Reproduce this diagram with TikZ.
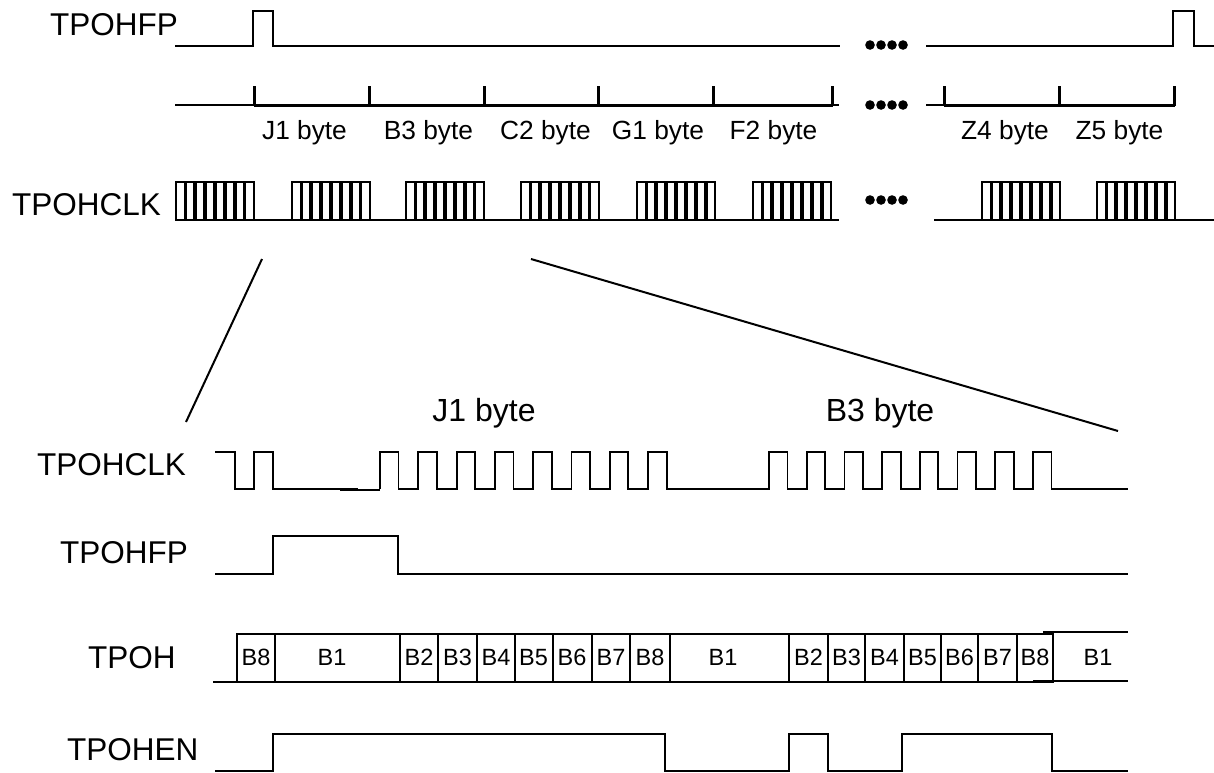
\documentclass[tikz,border=0pt]{standalone}
\usepackage{fontspec}
\setmainfont{Liberation Sans}
\begin{document}
\begin{tikzpicture}[x=1pt,y=-1pt,
  sig/.style={line width=1.8pt,line join=miter,line cap=butt},
  burstline/.style={line width=1.4pt},
  thinsig/.style={line width=1.4pt},
  thicksig/.style={line width=3pt},
  zoomline/.style={line width=2pt},
  biglbl/.style={inner sep=0pt,font=\fontsize{31.5}{36}\selectfont},
  bytelbl/.style={inner sep=0pt,anchor=base,font=\fontsize{26.3}{30}\selectfont},
  detlbl/.style={inner sep=0pt,anchor=base,font=\fontsize{32}{36}\selectfont},
  bitlbl/.style={inner sep=0pt,anchor=base,font=\fontsize{23.5}{27}\selectfont},
  dotmark/.style={fill=black}]
\fill[white] (0,0) rectangle (1214,772);
\useasboundingbox (0,0) rectangle (1214,772);

% ---------- top overview ----------
\node[biglbl,anchor=west] (lfp1) at (50,24.5) {TPOHFP};
\draw[sig] (175,46) -- (253,46) -- (253,11) -- (273,11) -- (273,46) -- (840,46);
\draw[sig] (926,46) -- (1173,46) -- (1173,11) -- (1194,11) -- (1194,46) -- (1214,46);
\foreach \dx in {0,11,22,33}{
  \fill[dotmark] (870+\dx,45) circle[radius=4.8pt];
  \fill[dotmark] (870+\dx,105) circle[radius=4.8pt];
  \fill[dotmark] (870+\dx,200) circle[radius=4.8pt];
}

% byte ruler
\draw[thinsig] (175,105) -- (254,105);
\draw[thicksig] (254,105) -- (833,105);
\draw[thinsig] (832,105) -- (839,105);
\foreach \t in {254,369,484,598,713,832}{\draw[thicksig] (\t,106) -- (\t,86);}
\draw[thinsig] (926,105) -- (944,105);
\draw[thicksig] (944,105) -- (1175,105);
\foreach \t in {944,1059,1174}{\draw[thicksig] (\t,106) -- (\t,86);}
\node[bytelbl] (bj1) at (304.5,139) {J1 byte};
\node[bytelbl] (bb3) at (428.5,139) {B3 byte};
\node[bytelbl] (bc2) at (545.5,139) {C2 byte};
\node[bytelbl] (bg1) at (658,139) {G1 byte};
\node[bytelbl] (bf2) at (773.5,139) {F2 byte};
\node[bytelbl] (bz4) at (1005,139) {Z4 byte};
\node[bytelbl] (bz5) at (1119.5,139) {Z5 byte};

% clock bursts
\node[biglbl,anchor=west] (lclk1) at (12,204.5) {TPOHCLK};
\draw[sig] (176,220) -- (839,220);
\draw[sig] (934,220) -- (1214,220);
\foreach \s in {176,292,406,521,637,753,982,1097}{
  \draw[sig] (\s,220) rectangle ++(78,-38);
  \foreach \k in {0,...,6}{
    \draw[burstline] ({\s+9.97*\k+8.2},220) -- ++(0,-38);
    \draw[burstline] ({\s+9.97*\k+9.97},220) -- ++(0,-38);
  }
}

% zoom lines
\coordinate (zl1) at (262,259);
\coordinate (zl2) at (186,422);
\coordinate (zr1) at (531,259);
\coordinate (zr2) at (1118,431);
\draw[zoomline] (zl1) -- (zl2);
\draw[zoomline] (zr1) -- (zr2);

% ---------- detail ----------
\node[detlbl] (dj1) at (484,421) {J1 byte};
\node[detlbl] (db3) at (880,421) {B3 byte};

\node[biglbl,anchor=west] (lclk2) at (37,464.5) {TPOHCLK};
\draw[sig] (215,452) -- (235,452) -- (235,489) -- (254,489) -- (254,452) -- (273,452) -- (273,489) -- (358,489);
\draw[sig] (340,490) -- (380,490);
\draw[sig] (380,489)
  \foreach \k in {0,...,7}{ -- ({380+38.3*\k},489) -- ({380+38.3*\k},452) -- ({398.5+38.3*\k},452) -- ({398.5+38.3*\k},489) }
  -- (769,489)
  \foreach \k in {0,...,7}{ -- ({769+37.7*\k},489) -- ({769+37.7*\k},452) -- ({787.5+37.7*\k},452) -- ({787.5+37.7*\k},489) }
  -- (1128,489);

\node[biglbl,anchor=west] (lfp2) at (60,553) {TPOHFP};
\draw[sig] (215,574) -- (273,574) -- (273,536) -- (398,536) -- (398,574) -- (1128,574);

\node[biglbl,anchor=west] (ltpoh) at (88,658) {TPOH};
\draw[sig] (213,682) -- (237,682);
\draw[sig] (237,634) rectangle (1053,682);
\foreach \d in {275,400,438,477,515,553,592,630,670,789,828,865,904,941,978,1017}{
  \draw[sig] (\d,634) -- (\d,682);
}
\draw[sig] (1043,632) -- (1128,632);
\draw[sig] (1033,681) -- (1128,681);
\foreach \xx/\tt [count=\i] in {256/B8,332/B1,419/B2,457.5/B3,496/B4,533.5/B5,572/B6,611/B7,650/B8,
  723/B1,808.5/B2,846.5/B3,884.5/B4,922.5/B5,959.5/B6,997.5/B7,1035/B8,1098/B1}{
  \node[bitlbl] (bit\i) at (\xx,665.5) {\tt};
}

\node[biglbl,anchor=west] (len) at (67,750) {TPOHEN};
\draw[sig] (215,771) -- (273,771) -- (273,734) -- (665,734) -- (665,771) -- (789,771) -- (789,734)
  -- (828,734) -- (828,771) -- (902,771) -- (902,734) -- (1052,734) -- (1052,771) -- (1128,771);
\end{tikzpicture}
\end{document}
